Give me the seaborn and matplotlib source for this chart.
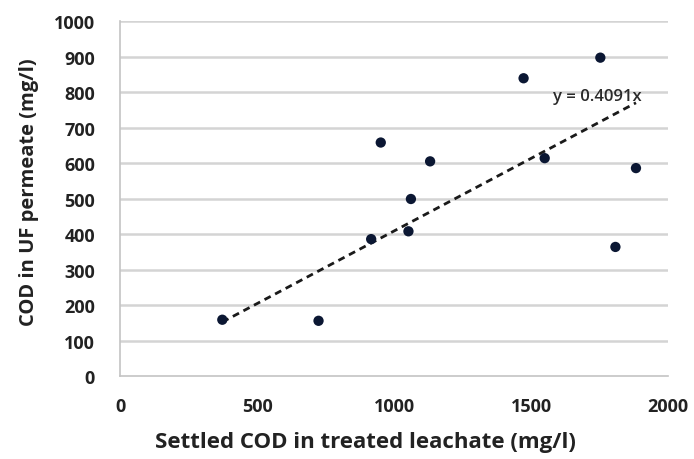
import matplotlib
matplotlib.use("Agg")
import matplotlib.pyplot as plt
import seaborn as sns
import numpy as np
import pandas as pd

# Settled COD vs COD in UF permeate (mg/l)
settled_cod = [373, 724, 916, 951, 1052, 1061, 1131, 1472, 1549, 1752, 1807, 1882]
permeate_cod = [159, 156, 386, 658, 408, 499, 605, 839, 614, 897, 364, 586]
slope = 0.4091
x_ticks = [0, 500, 1000, 1500, 2000]
y_ticks = list(range(0, 1001, 100))

sns.set_theme(style="white")
plt.rcParams["font.family"] = ["Open Sans", "DejaVu Sans"]

df = pd.DataFrame({"settled": settled_cod, "permeate": permeate_cod})

fig = plt.figure(figsize=(6.94, 4.60), dpi=100)
ax = fig.add_axes([0.173, 0.180, 0.790, 0.772])

for yv in y_ticks[1:]:
    ax.axhline(yv, color="#d4d4d4", lw=1.8, zorder=0)

# Linear trend through the origin
xs = np.array([min(settled_cod), max(settled_cod)])
ax.plot(xs, slope * xs, color="#1a1a1a", lw=2.0, ls=(0, (2.5, 1.8)), zorder=2)

sns.scatterplot(data=df, x="settled", y="permeate", ax=ax, color="#0b1733",
                s=55, edgecolor="none", zorder=3, legend=False)

ax.text(1580, 790, f"y = {slope}x", fontsize=12, color="#2a2a2a",
        ha="left", va="center", fontweight="semibold")

ax.set_xlim(0, 2000)
ax.set_ylim(0, 1000)
ax.set_xticks(x_ticks)
ax.set_yticks(y_ticks)
ax.tick_params(axis="x", direction="out", length=6, width=1, color="#bbbbbb",
               labelsize=13, pad=9)
ax.tick_params(axis="y", direction="out", length=7, width=1.5, color="#d4d4d4",
               labelsize=13, pad=11)
for lab in ax.get_xticklabels() + ax.get_yticklabels():
    lab.set_fontweight("bold")
    lab.set_color("#222222")

for side in ["top", "right"]:
    ax.spines[side].set_visible(False)
for side in ["left", "bottom"]:
    ax.spines[side].set_color("#c4c4c4")
    ax.spines[side].set_linewidth(1.2)

ax.set_xlabel("Settled COD in treated leachate (mg/l)", fontsize=16,
              fontweight="bold", color="#222222")
ax.set_ylabel("COD in UF permeate (mg/l)", fontsize=14.5,
              fontweight="bold", color="#222222")
ax.xaxis.set_label_coords(0.447, -0.155)
ax.yaxis.set_label_coords(-0.148, 0.52)

fig.savefig("out.png", dpi=100)
